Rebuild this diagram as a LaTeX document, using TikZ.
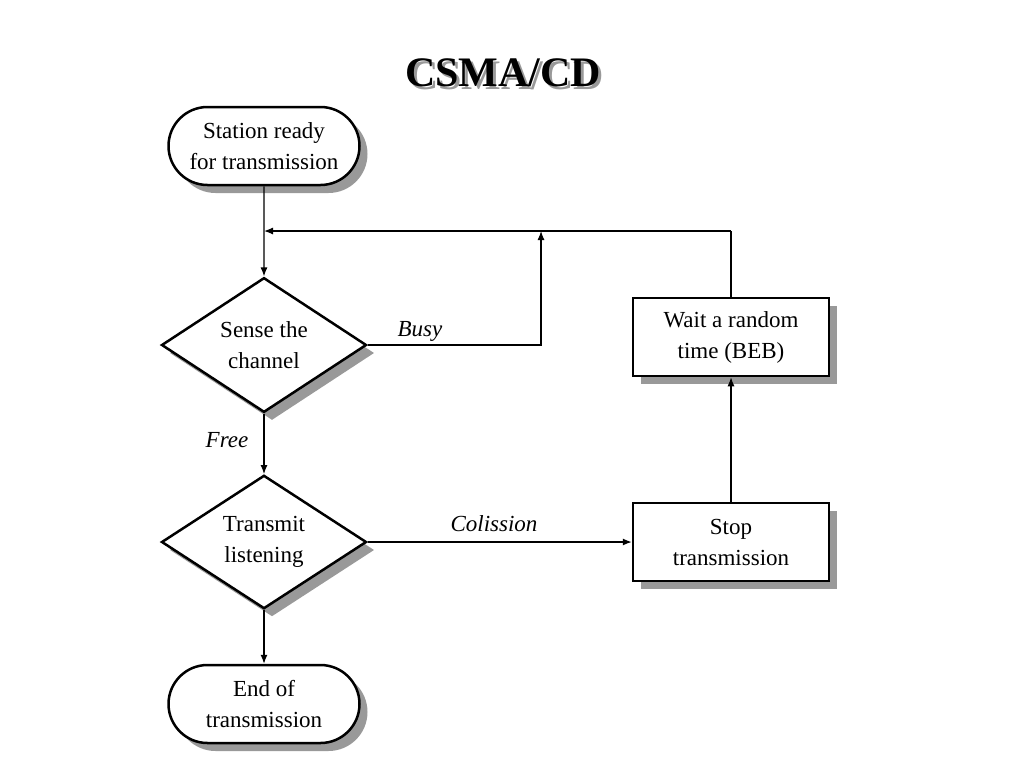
\documentclass[tikz,border=0pt]{standalone}
\usepackage{fontspec}
\setmainfont{Liberation Serif}
\usetikzlibrary{shapes.geometric,shapes.misc,shadows,arrows.meta}
\tikzset{
  box/.style={draw, line width=2.5pt, fill=white, align=center,
    font=\fontsize{23}{31}\selectfont,
    drop shadow={shadow xshift=8pt, shadow yshift=-8pt, fill=gray!80, opacity=1}},
  term/.style={box, rounded rectangle, minimum width=195pt, minimum height=78pt, inner xsep=2pt},
  decide/.style={box, diamond, inner sep=0pt, minimum width=205pt, minimum height=128pt},
  action/.style={box, rectangle, minimum width=196pt, minimum height=78pt},
  flow/.style={line width=1.2pt, -{Latex[length=9pt,width=7pt]}},
  lbl/.style={font=\fontsize{23}{26}\selectfont\itshape}
}
\begin{document}
\begin{tikzpicture}[x=1pt,y=-1pt]
  \useasboundingbox (0,0) rectangle (1024,768);
  % title
  \node (titleshadow) [font=\fontsize{42}{44}\selectfont\bfseries, gray!80] at (506,76) {CSMA/CD};
  \node (title) [font=\fontsize{42}{44}\selectfont\bfseries] at (503,73) {CSMA/CD};
  % nodes
  \node (ready) [term] at (264,146) {Station ready\\for transmission};
  \node (sense) [decide] at (264,345) {Sense the\\channel};
  \node (send) [decide] at (264,542) {Transmit\\listening};
  \node (done) [term] at (264,704) {End of\\transmission};
  \node (wait) [action] at (731,337) {Wait a random\\time (BEB)};
  \node (stop) [action] at (731,542) {Stop\\transmission};
  \coordinate (join) at (264,231);
  \coordinate (top) at (731,231);
  \coordinate (busyup) at (541,231);
  % connectors
  \draw[flow] (ready) -- (sense);
  \draw[flow] (top) -- (join);
  \draw[line width=1.2pt] (wait) -- (top);
  \draw[flow] (sense.east) -| (busyup);
  \draw[flow] (sense) -- (send);
  \draw[flow] (send) -- (done);
  \draw[flow] (send.east) -- (stop.west);
  \draw[flow] (stop) -- (wait);
  % labels
  \node (busy) [lbl] at (420,331) {Busy};
  \node (free) [lbl] at (227,440) {Free};
  \node (coll) [lbl] at (494,524) {Colission};
\end{tikzpicture}
\end{document}
